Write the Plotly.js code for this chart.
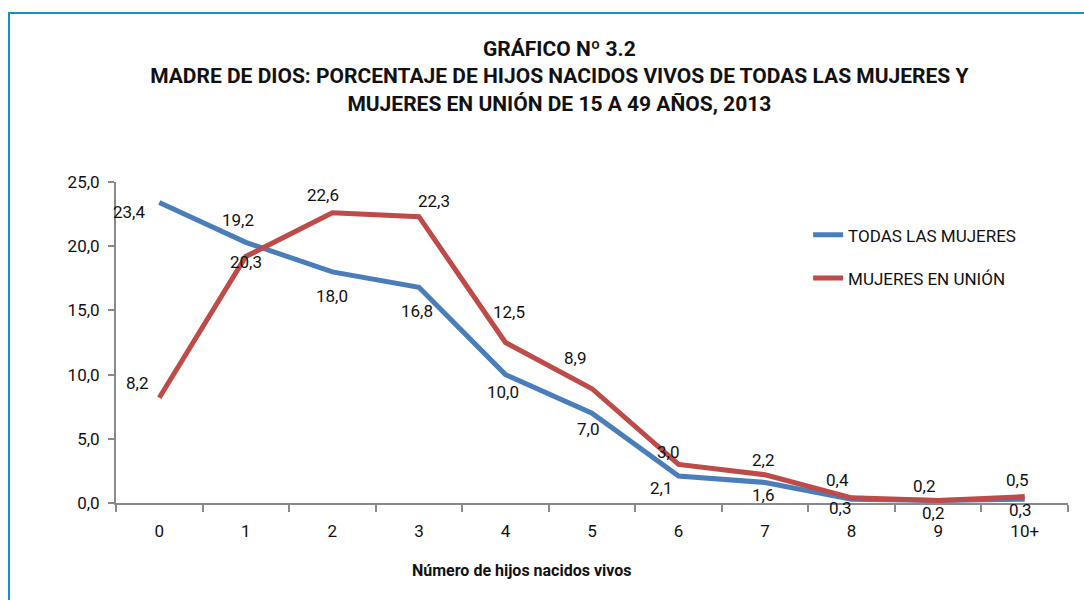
<!DOCTYPE html>
<html>
<head>
<meta charset="utf-8">
<script src="https://cdn.plot.ly/plotly-3.0.1.min.js"></script>
<style>
  html, body { margin: 0; padding: 0; background: #fff; }
  #chart { width: 1084px; height: 600px; }
  #frame { position: absolute; left: 8px; top: 12px; width: 1100px; height: 620px;
           border-top: 2px solid #1b8dc3; border-left: 2px solid #1b8dc3; pointer-events: none; }
</style>
</head>
<body>
<div id="chart"></div>
<div id="frame"></div>
<script>
const categories = ["0", "1", "2", "3", "4", "5", "6", "7", "8", "9", "10+"];
const todasLasMujeres = [23.4, 20.3, 18.0, 16.8, 10.0, 7.0, 2.1, 1.6, 0.3, 0.2, 0.3];
const mujeresEnUnion = [8.2, 19.2, 22.6, 22.3, 12.5, 8.9, 3.0, 2.2, 0.4, 0.2, 0.5];
const yTickValues = [0, 5, 10, 15, 20, 25];
const yTickLabels = ["0,0", "5,0", "10,0", "15,0", "20,0", "25,0"];

// pixel offsets of each data label from its point (label placement only)
const todasDx = [-30, 0, 0, -2, -2, -4, -18, -2, -12, -5, -5];
const todasDy = [9, 20, 24, 24, 17, 16, 12, 13, 9, 13, 11];
const unionDx = [-22, -8, -9, 15, 4, -17, -11, -2, -14, -14, -8];
const unionDy = [-15, -36, -18, -16, -31, -31, -12, -15, -18, -14, -17];

const fmt = v => v.toFixed(1).replace('.', ',');
const FONT = 'Roboto, "Liberation Sans", Arial, sans-serif';

const traces = [
  {
    x: categories, y: todasLasMujeres, name: "TODAS LAS MUJERES", type: "scatter",
    mode: "lines", line: {color: "#4a7ebb", width: 5}, legendgroup: "a"
  },
  {
    x: categories, y: mujeresEnUnion, name: "MUJERES EN UNIÓN", type: "scatter",
    mode: "lines", line: {color: "#be4b48", width: 5}, legendgroup: "b"
  }
];

const labelFont = {family: FONT, size: 17, color: "#111"};
const annotations = [];
categories.forEach((c, i) => {
  annotations.push({x: c, y: todasLasMujeres[i], xref: "x", yref: "y", text: fmt(todasLasMujeres[i]),
    showarrow: false, xshift: todasDx[i], yshift: -todasDy[i], font: labelFont});
  annotations.push({x: c, y: mujeresEnUnion[i], xref: "x", yref: "y", text: fmt(mujeresEnUnion[i]),
    showarrow: false, xshift: unionDx[i], yshift: -unionDy[i], font: labelFont});
});
annotations.push({
  text: "<b>Número de hijos nacidos vivos</b>", showarrow: false,
  xref: "paper", yref: "paper", x: 0.426, y: -0.209, xanchor: "center", yanchor: "middle",
  font: {family: FONT, size: 16, color: "#111"}
});

const layout = {
  width: 1084, height: 600,
  margin: {l: 116, r: 16, t: 182, b: 97},
  paper_bgcolor: "#fff", plot_bgcolor: "#fff",
  font: {family: FONT, size: 17, color: "#111"},
  title: {
    text: "<b>GRÁFICO Nº 3.2<br>MADRE DE DIOS: PORCENTAJE DE HIJOS NACIDOS VIVOS DE TODAS LAS MUJERES Y<br>MUJERES EN UNIÓN DE 15 A 49 AÑOS, 2013</b>",
    font: {family: FONT, size: 21, color: "#111"},
    x: 0.516, xanchor: "center", xref: "container",
    y: 1 - 56/600, yanchor: "top", yref: "container"
  },
  xaxis: {
    type: "category", range: [-0.5, categories.length - 0.5], autorange: false,
    showgrid: false, zeroline: false,
    showline: true, linecolor: "#8a8a8a", linewidth: 2,
    ticks: "outside", tickson: "boundaries", ticklen: 7, tickcolor: "#8a8a8a", tickwidth: 2,
    ticklabelstandoff: 12,
    tickfont: {family: FONT, size: 17, color: "#111"}, fixedrange: true
  },
  yaxis: {
    range: [0, 25], autorange: false, tickvals: yTickValues, ticktext: yTickLabels,
    showgrid: false, zeroline: false,
    showline: true, linecolor: "#8a8a8a", linewidth: 2,
    ticks: "outside", ticklen: 6, tickcolor: "#8a8a8a", tickwidth: 2,
    ticklabelstandoff: 5,
    tickfont: {family: FONT, size: 17, color: "#111"}, fixedrange: true
  },
  legend: {
    x: 0.727, y: 0.89, xanchor: "left", yanchor: "top",
    font: {family: FONT, size: 17, color: "#111"},
    traceorder: "grouped", tracegroupgap: 18, bgcolor: "rgba(0,0,0,0)"
  },
  showlegend: true,
  annotations: annotations
};

Plotly.newPlot("chart", traces, layout, {displayModeBar: false, staticPlot: true});
</script>
</body>
</html>
